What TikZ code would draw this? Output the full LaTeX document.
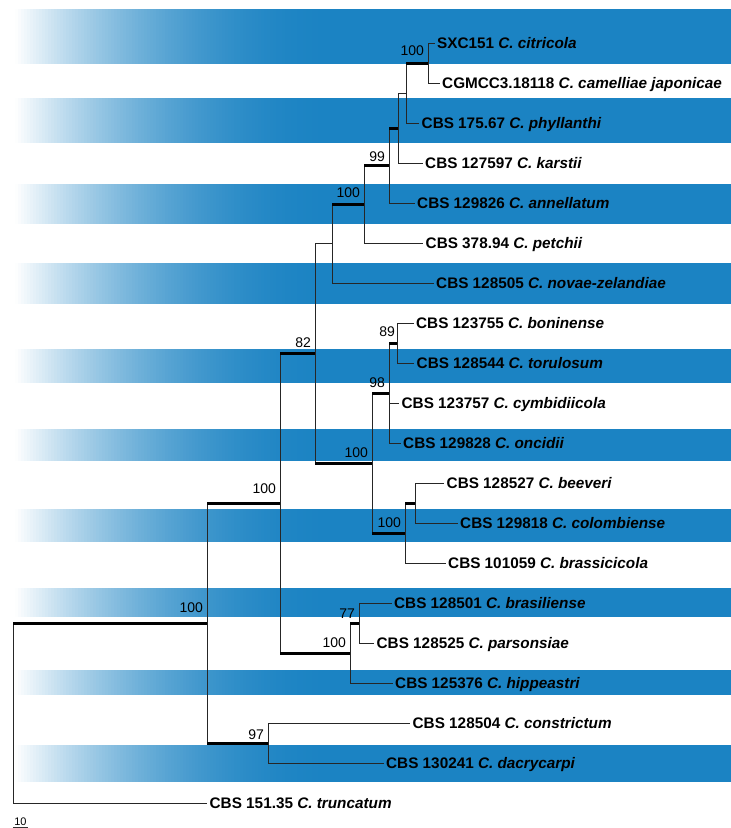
\documentclass[tikz,border=0pt]{standalone}
\usepackage{fontspec}
\setmainfont{Liberation Sans}
\usetikzlibrary{positioning}
\definecolor{franja}{RGB}{27,131,195}

\begin{document}
\begin{tikzpicture}[
x=1pt, y=-1pt,
taxon/.style={anchor=west, inner xsep=2.5pt, inner ysep=0pt, text height=13pt, text depth=2.1pt, font=\fontsize{15.3}{17}\selectfont\bfseries},
branch/.style={draw=black!85, line width=1pt},
strong/.style={draw=black, line width=3pt},
bootstrap/.style={anchor=south east, inner sep=0pt, xshift=-2.5pt, yshift=3.5pt, font=\fontsize{14}{15}\selectfont}
]
\useasboundingbox (0,0) rectangle (731,828);

% bandas de fondo (degradado a la izquierda, azul liso a la derecha)
\foreach \i in {0,...,104} {
  \pgfmathsetmacro\xa{15+3*\i}
  \pgfmathsetmacro\xb{\xa+3.6}
  \pgfmathsetmacro\p{100*(1-(1-(\i+0.5)/105)^2)}
  \foreach \ya/\yb in {9/64, 98/143, 184/224, 263/304, 349/383, 429/461, 509/542, 588/617, 670/695, 745/782}
    \fill[franja!\p!white] (\xa,\ya) rectangle (\xb,\yb);
}
\foreach \ya/\yb in {9/64, 98/143, 184/224, 263/304, 349/383, 429/461, 509/542, 588/617, 670/695, 745/782}
  \fill[franja] (330,\ya) rectangle (731,\yb);

% taxones
\node[taxon] (t_citricola) at (434.5,43) {SXC151 \textit{C. citricola}};
\node[taxon] (t_camelliae) at (439.5,83) {CGMCC3.18118 \textit{C. camelliae japonicae}};
\node[taxon] (t_phyllanthi) at (419,123) {CBS 175.67 \textit{C. phyllanthi}};
\node[taxon] (t_karstii) at (422.5,163) {CBS 127597 \textit{C. karstii}};
\node[taxon] (t_annellatum) at (414.5,203) {CBS 129826 \textit{C. annellatum}};
\node[taxon] (t_petchii) at (423,243) {CBS 378.94 \textit{C. petchii}};
\node[taxon] (t_novae) at (433.5,283) {CBS 128505 \textit{C. novae-zelandiae}};
\node[taxon] (t_boninense) at (413.5,323) {CBS 123755 \textit{C. boninense}};
\node[taxon] (t_torulosum) at (414,363) {CBS 128544 \textit{C. torulosum}};
\node[taxon] (t_cymbidiicola) at (399,403) {CBS 123757 \textit{C. cymbidiicola}};
\node[taxon] (t_oncidii) at (400.5,443) {CBS 129828 \textit{C. oncidii}};
\node[taxon] (t_beeveri) at (444,483) {CBS 128527 \textit{C. beeveri}};
\node[taxon] (t_colombiense) at (457.5,523) {CBS 129818 \textit{C. colombiense}};
\node[taxon] (t_brassicicola) at (445.5,563) {CBS 101059 \textit{C. brassicicola}};
\node[taxon] (t_brasiliense) at (391.5,603) {CBS 128501 \textit{C. brasiliense}};
\node[taxon] (t_parsonsiae) at (374,643) {CBS 128525 \textit{C. parsonsiae}};
\node[taxon] (t_hippeastri) at (392.5,683) {CBS 125376 \textit{C. hippeastri}};
\node[taxon] (t_constrictum) at (410,723) {CBS 128504 \textit{C. constrictum}};
\node[taxon] (t_dacrycarpi) at (383.5,763) {CBS 130241 \textit{C. dacrycarpi}};
\node[taxon] (t_truncatum) at (207,803) {CBS 151.35 \textit{C. truncatum}};

% nodos internos
\coordinate (n_root) at (13,713);
\coordinate (n_ingr) at (207,623);
\coordinate (n_core) at (280,503);
\coordinate (n_upper) at (315,353);
\coordinate (n_nova) at (332,243);
\coordinate (n_petc) at (364,204);
\coordinate (n_anne) at (389,165.5);
\coordinate (n_kars) at (398,128);
\coordinate (n_phyl) at (406,93);
\coordinate (n_citr) at (428,63);
\coordinate (n_boni) at (372,463);
\coordinate (n_cymb) at (389,393);
\coordinate (n_toru) at (397,343);
\coordinate (n_bras) at (405,533);
\coordinate (n_beev) at (415,503);
\coordinate (n_hipp) at (350,653);
\coordinate (n_pars) at (359,623);
\coordinate (n_cons) at (268,743);

% ramas
\draw[branch] (n_root) |- (n_ingr) (n_root) |- (t_truncatum);
\draw[branch] (n_ingr) |- (n_core) (n_ingr) |- (n_cons);
\draw[branch] (n_core) |- (n_upper) (n_core) |- (n_hipp);
\draw[branch] (n_upper) |- (n_nova) (n_upper) |- (n_boni);
\draw[branch] (n_nova) |- (n_petc) (n_nova) |- (t_novae);
\draw[branch] (n_petc) |- (n_anne) (n_petc) |- (t_petchii);
\draw[branch] (n_anne) |- (n_kars) (n_anne) |- (t_annellatum);
\draw[branch] (n_kars) |- (n_phyl) (n_kars) |- (t_karstii);
\draw[branch] (n_phyl) |- (n_citr) (n_phyl) |- (t_phyllanthi);
\draw[branch] (n_citr) |- (t_citricola) (n_citr) |- (t_camelliae);
\draw[branch] (n_boni) |- (n_cymb) (n_boni) |- (n_bras);
\draw[branch] (n_cymb) |- (n_toru) (n_cymb) |- (t_cymbidiicola) (n_cymb) |- (t_oncidii);
\draw[branch] (n_toru) |- (t_boninense) (n_toru) |- (t_torulosum);
\draw[branch] (n_bras) |- (n_beev) (n_bras) |- (t_brassicicola);
\draw[branch] (n_beev) |- (t_beeveri) (n_beev) |- (t_colombiense);
\draw[branch] (n_hipp) |- (n_pars) (n_hipp) |- (t_hippeastri);
\draw[branch] (n_pars) |- (t_brasiliense) (n_pars) |- (t_parsonsiae);
\draw[branch] (n_cons) |- (t_constrictum) (n_cons) |- (t_dacrycarpi);

% ramas con soporte
\draw[strong] (n_root |- n_ingr) -- (n_ingr) node[bootstrap, yshift=5.5pt] {100};
\draw[strong] (n_ingr |- n_core) -- (n_core) node[bootstrap, yshift=4.5pt] {100};
\draw[strong] (n_ingr |- n_cons) -- (n_cons) node[bootstrap, yshift=-1.5pt] {97};
\draw[strong] (n_core |- n_upper) -- (n_upper) node[bootstrap] {82};
\draw[strong] (n_core |- n_hipp) -- (n_hipp) node[bootstrap] {100};
\draw[strong] (n_upper |- n_boni) -- (n_boni) node[bootstrap] {100};
\draw[strong] (n_nova |- n_petc) -- (n_petc) node[bootstrap, yshift=1.5pt] {100};
\draw[strong] (n_petc |- n_anne) -- (n_anne) node[bootstrap, yshift=-1.5pt] {99};
\draw[strong] (n_anne |- n_kars) -- (n_kars);
\draw[strong] (n_phyl |- n_citr) -- (n_citr) node[bootstrap, yshift=2.5pt] {100};
\draw[strong] (n_boni |- n_cymb) -- (n_cymb) node[bootstrap] {98};
\draw[strong] (n_boni |- n_bras) -- (n_bras) node[bootstrap] {100};
\draw[strong] (n_cymb |- n_toru) -- (n_toru) node[bootstrap, xshift=2pt, yshift=1.5pt] {89};
\draw[strong] (n_bras |- n_beev) -- (n_beev);
\draw[strong] (n_hipp |- n_pars) -- (n_pars) node[bootstrap] {77};

% escala
\node[inner sep=0pt, anchor=south, minimum width=15pt, font=\fontsize{11}{12}\selectfont] (escala) at (20.5,825.5) {10};
\draw[black!80, line width=0.8pt] ([yshift=-1.5pt]escala.south west) -- ([yshift=-1.5pt]escala.south east);

\end{tikzpicture}
\end{document}
